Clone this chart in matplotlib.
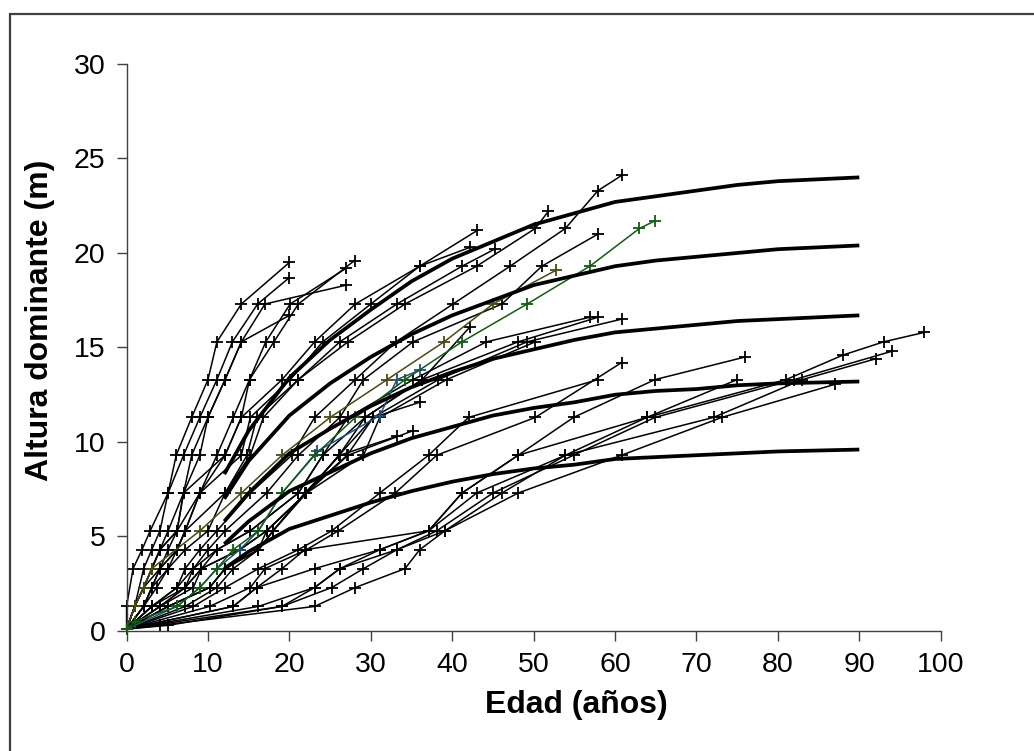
import matplotlib
matplotlib.use("Agg")
import matplotlib.pyplot as plt
from matplotlib.patches import Rectangle

plt.rcParams['font.family'] = ['Liberation Sans', 'DejaVu Sans']

# site index curves (thick lines), heights read at these ages
curve_age = [12, 15, 20, 25, 30, 35, 40, 45, 50, 55, 60, 65, 70, 75, 80, 85, 90]
curve_24 = [8.3, 10.6, 13.4, 15.4, 17.0, 18.5, 19.7, 20.6, 21.5, 22.1, 22.7, 23.0, 23.3, 23.6, 23.8, 23.9, 24.0]
curve_20 = [7.0, 9.0, 11.4, 13.1, 14.5, 15.7, 16.7, 17.5, 18.3, 18.8, 19.3, 19.6, 19.8, 20.0, 20.2, 20.3, 20.4]
curve_17 = [5.8, 7.3, 9.4, 10.7, 11.9, 12.9, 13.7, 14.4, 14.9, 15.4, 15.8, 16.0, 16.2, 16.4, 16.5, 16.6, 16.7]
curve_13 = [4.6, 5.8, 7.4, 8.4, 9.4, 10.2, 10.8, 11.4, 11.8, 12.1, 12.5, 12.7, 12.8, 13.0, 13.1, 13.15, 13.2]
curve_10 = [3.3, 4.2, 5.4, 6.1, 6.8, 7.4, 7.9, 8.3, 8.6, 8.8, 9.1, 9.2, 9.3, 9.4, 9.5, 9.55, 9.6]

# stem analysis trees: age (years) and height (m) of each section
fast_ages = [
    [0, 0, 0.8, 1.9, 2.9, 5.1, 6.1, 8.0, 10.0, 11.1, 14.1, 20.0],
    [0, 1.0, 2.1, 3.1, 4.1, 5.1, 7.0, 9.0, 11.1, 13.0, 16.1, 20.0],
    [0, 1.0, 2.1, 3.1, 4.1, 6.2, 7.0, 8.0, 10.0, 12.1, 14.1, 17.0, 27.0],
    [0, 1.0, 2.1, 4.1, 5.1, 6.2, 7.0, 9.0, 10.0, 12.1, 14.1, 20.0],
    [0, 2.1, 3.1, 4.1, 6.2, 7.2, 9.0, 11.1, 13.1, 15.1, 17.1, 20.1, 27.0],
    [0, 2.1, 3.1, 5.1, 6.2, 7.2, 9.0, 12.1, 14.1, 15.1, 18.1, 21.1, 28.0],
]
fast_heights = [
    [0.1, 1.3, 3.3, 4.3, 5.3, 7.3, 9.3, 11.3, 13.3, 15.3, 17.3, 19.5],
    [0.1, 1.3, 3.3, 4.3, 5.3, 7.3, 9.3, 11.3, 13.3, 15.3, 17.3, 18.7],
    [0.1, 1.3, 2.3, 3.3, 4.3, 5.3, 7.3, 9.3, 11.3, 13.3, 15.3, 17.3, 18.3],
    [0.1, 1.3, 2.3, 3.3, 4.3, 5.3, 7.3, 9.3, 11.3, 13.3, 15.3, 16.7],
    [0.1, 1.3, 2.3, 3.3, 4.3, 5.3, 7.3, 9.3, 11.3, 13.3, 15.3, 17.3, 19.2],
    [0.1, 1.3, 2.3, 3.3, 4.3, 5.3, 7.3, 9.3, 11.3, 13.3, 15.3, 17.3, 19.6],
]

mid_ages = [
    [0, 1.0, 2.1, 3.1, 4.1, 5.1, 7.0, 12.1, 14.1, 19.1, 23.1, 28.1, 36.0, 42.2],
    [0, 1.0, 2.1, 3.1, 4.1, 6.2, 9.0, 14.1, 15.2, 20.1, 24.1, 30.0, 36.0, 43.1],
    [0, 2.1, 3.1, 4.1, 6.2, 7.2, 12.1, 14.8, 16.0, 21.1, 26.2, 33.2, 41.2, 45.2],
    [0, 2.1, 3.7, 5.1, 7.2, 10.0, 12.1, 15.2, 16.8, 21.1, 27.2, 34.2, 43.0, 50.2, 51.8],
    [0, 3.1, 6.2, 7.2, 9.0, 11.1, 15.2, 20.3, 23.1, 28.1, 33.1, 40.1, 47.1, 53.9, 57.9, 60.8],
    [0, 3.1, 6.2, 8.2, 10.0, 12.1, 17.2, 21.1, 26.2, 29.1, 35.2, 46.1, 51.0, 57.9],
]
mid_heights = [
    [0.1, 1.3, 2.3, 3.3, 4.3, 5.3, 7.3, 9.3, 11.3, 13.3, 15.3, 17.3, 19.3, 20.3],
    [0.1, 1.3, 2.3, 3.3, 4.3, 5.3, 7.3, 9.3, 11.3, 13.3, 15.3, 17.3, 19.3, 21.2],
    [0.1, 1.3, 2.3, 3.3, 4.3, 5.3, 7.3, 9.3, 11.3, 13.3, 15.3, 17.3, 19.3, 20.2],
    [0.1, 1.3, 2.3, 3.3, 4.3, 5.3, 7.3, 9.3, 11.3, 13.3, 15.3, 17.3, 19.3, 21.3, 22.2],
    [0.1, 1.3, 2.3, 3.3, 4.3, 5.3, 7.3, 9.3, 11.3, 13.3, 15.3, 17.3, 19.3, 21.3, 23.3, 24.1],
    [0.1, 1.3, 2.3, 3.3, 4.3, 5.3, 7.3, 9.3, 11.3, 13.3, 15.3, 17.3, 19.3, 21.0],
]

low_ages = [
    [0, 3.1, 7.2, 8.2, 11.1, 15.2, 21.1, 24.1, 27.2, 35.2, 44.2, 56.9],
    [0, 4.1, 7.2, 9.2, 13.9, 17.2, 22.1, 26.1, 29.3, 36.3, 48.1, 57.9],
    [0, 5.1, 10.2, 12.1, 16.2, 18.0, 21.9, 27.1, 30.3, 38.3, 49.2, 60.8],
    [0, 5.1, 10.2, 12.1, 16.2, 18.0, 22.1, 29.1, 31.1, 39.3, 50.2],
    [0, 4.1, 8.2, 9.2, 11.1, 15.2, 21.1, 24.1, 29.3, 36.3, 42.2],
    [0, 4.1, 7.2, 9.2, 13.9, 17.2, 22.1, 26.1, 30.3, 36.0],
    [0, 5.1, 10.2, 12.1, 16.2, 18.0, 21.9, 26.2, 33.2],
    [0, 7.2, 11.1, 13.1, 16.2, 17.2, 22.1, 27.2, 35.2],
]
low_heights = [
    [0.1, 1.3, 2.3, 3.3, 4.3, 5.3, 7.3, 9.3, 11.3, 13.3, 15.3, 16.6],
    [0.1, 1.3, 2.3, 3.3, 4.3, 5.3, 7.3, 9.3, 11.3, 13.3, 15.3, 16.6],
    [0.1, 1.3, 2.3, 3.3, 4.3, 5.3, 7.3, 9.3, 11.3, 13.3, 15.3, 16.5],
    [0.1, 1.3, 2.3, 3.3, 4.3, 5.3, 7.3, 9.3, 11.3, 13.3, 15.3],
    [0.1, 1.3, 2.3, 3.3, 4.3, 5.3, 7.3, 9.3, 11.3, 13.3, 16.1],
    [0.1, 1.3, 2.3, 3.3, 4.3, 5.3, 7.3, 9.3, 11.3, 12.1],
    [0.1, 1.3, 2.3, 3.3, 4.3, 5.3, 7.3, 9.3, 10.3],
    [0.1, 1.3, 2.3, 3.3, 4.3, 5.3, 7.3, 9.3, 10.6],
]

slow_ages = [
    [0, 8.2, 12.1, 16.2, 21.1, 25.2, 31.1, 37.1, 42.0, 57.9],
    [0, 10.2, 15.2, 17.0, 22.1, 26.0, 33.0, 38.1, 50.2, 60.8],
    [0, 13.1, 16.0, 19.1, 21.9, 37.1, 41.2, 48.1, 54.9, 64.9, 76.0],
    [0, 13.1, 16.0, 23.1, 31.1, 37.1, 43.0, 53.9, 63.9, 81.0, 88.0, 93.0, 98.0],
    [0, 16.2, 23.1, 26.2, 33.2, 38.1, 45.0, 54.9, 64.9, 82.0, 94.0],
    [0, 5.1, 19.1, 25.2, 29.1, 33.2, 39.1, 46.1, 53.9, 72.1, 83.0, 92.0],
    [0, 4.1, 23.1, 28.1, 34.2, 36.0, 39.1, 48.1, 60.8, 73.1, 87.0],
    [0, 19.1, 23.1, 26.2, 31.1, 37.1, 41.2, 48.1, 63.9, 75.0],
]
slow_heights = [
    [0.1, 1.3, 2.3, 3.3, 4.3, 5.3, 7.3, 9.3, 11.3, 13.3],
    [0.1, 1.3, 2.3, 3.3, 4.3, 5.3, 7.3, 9.3, 11.3, 14.2],
    [0.1, 1.3, 2.3, 3.3, 4.3, 5.3, 7.3, 9.3, 11.3, 13.3, 14.5],
    [0.1, 1.3, 2.3, 3.3, 4.3, 5.3, 7.3, 9.3, 11.3, 13.3, 14.6, 15.3, 15.8],
    [0.1, 1.3, 2.3, 3.3, 4.3, 5.3, 7.3, 9.3, 11.3, 13.3, 14.8],
    [0.1, 0.3, 1.3, 2.3, 3.3, 4.3, 5.3, 7.3, 9.3, 11.3, 13.3, 14.4],
    [0.1, 0.3, 1.3, 2.3, 3.3, 4.3, 5.3, 7.3, 9.3, 11.3, 13.05],
    [0.1, 1.3, 2.3, 3.3, 4.3, 5.3, 7.3, 9.3, 11.3, 13.3],
]

# the three coloured trees
blue_ages = [0, 6.2, 9.0, 11.1, 13.9, 16.2, 19.1, 23.4, 31.1, 33.2, 36.0]
blue_heights = [0.1, 1.3, 2.3, 3.3, 4.3, 5.3, 7.3, 9.5, 11.4, 13.3, 13.8]
olive_ages = [0, 1.0, 2.1, 3.1, 9.0, 14.1, 19.1, 25.0, 32.0, 39.0, 45.0, 52.8]
olive_heights = [0.1, 1.3, 2.3, 3.3, 5.3, 7.3, 9.3, 11.3, 13.3, 15.3, 17.3, 19.1]
green_ages = [0, 1.0, 6.2, 9.0, 11.1, 13.1, 16.2, 19.1, 23.1, 28.1, 34.2, 41.2, 49.2, 56.9, 63.0, 64.9]
green_heights = [0.1, 0.5, 1.3, 2.3, 3.3, 4.3, 5.3, 7.3, 9.3, 11.3, 13.3, 15.3, 17.3, 19.3, 21.3, 21.7]

fig = plt.figure(figsize=(10.34, 7.51), dpi=100)
ax = fig.add_axes([0.1224, 0.1598, 0.7874, 0.7550])

tree_kw = dict(lw=1.1, marker="+", ms=9, mew=1.3)
for ages_list, h_list in [(fast_ages, fast_heights), (mid_ages, mid_heights),
                          (low_ages, low_heights), (slow_ages, slow_heights)]:
    for a, h in zip(ages_list, h_list):
        ax.plot(a, h, color="black", **tree_kw)

ax.plot(blue_ages, blue_heights, color="#1f4f80", **tree_kw)
ax.plot(olive_ages, olive_heights, color="#4a4a14", **tree_kw)
ax.plot(green_ages, green_heights, color="#135a13", **tree_kw)

for c in [curve_24, curve_20, curve_17, curve_13, curve_10]:
    ax.plot(curve_age, c, color="black", lw=2.7, solid_capstyle="butt", zorder=3)

ax.set_xlim(0, 100)
ax.set_ylim(0, 30)
ax.set_xticks(range(0, 101, 10))
ax.set_yticks(range(0, 31, 5))
ax.spines["top"].set_visible(False)
ax.spines["right"].set_visible(False)
for s in ["left", "bottom"]:
    ax.spines[s].set_color("#404040")
    ax.spines[s].set_linewidth(1.0)
ax.tick_params(direction="out", length=7, width=1.0, color="#404040",
               labelsize=20.5, pad=8)
for line in ax.lines:
    line.set_clip_on(False)

ax.set_xlabel("Edad (años)", fontsize=23, fontweight="bold", va="center")
ax.set_ylabel("Altura dominante (m)", fontsize=23, fontweight="bold", va="center")
ax.xaxis.set_label_coords(0.552, -0.1305)
ax.yaxis.set_label_coords(-0.106, 0.548)

fig.patches.append(Rectangle((10 / 1034, -0.05), 1.1, 1 - 14 / 751 + 0.05,
                             transform=fig.transFigure, fill=False,
                             edgecolor="#404040", lw=1.6, clip_on=False))

fig.savefig("out.png", dpi=100)
